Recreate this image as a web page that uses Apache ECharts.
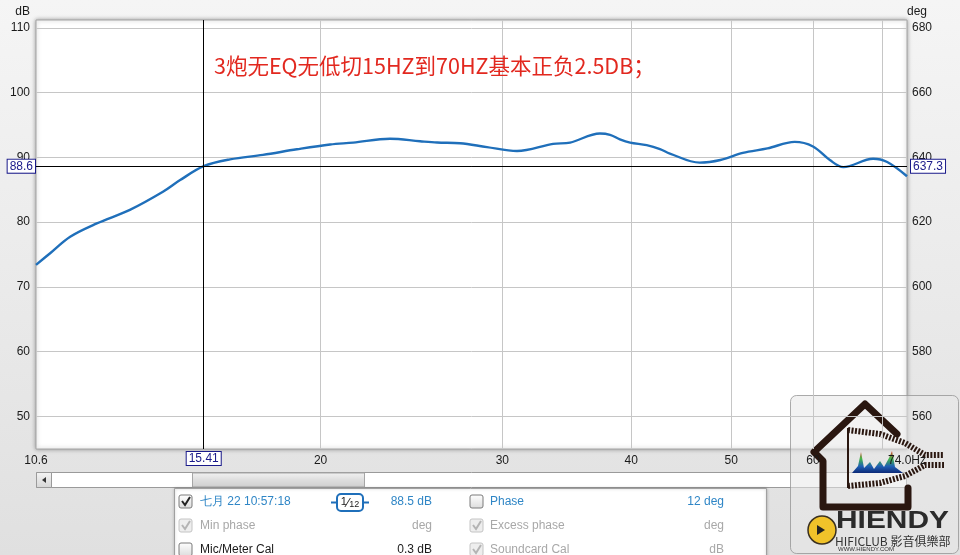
<!DOCTYPE html>
<html><head><meta charset="utf-8">
<script src="https://cdn.jsdelivr.net/npm/echarts@6.0.0/dist/echarts.min.js"></script>
<style>html,body{margin:0;padding:0;width:960px;height:555px;overflow:hidden;background:#ececec}#c{width:960px;height:555px;}</style>
</head><body><div id="c"></div>
<script>
// ---- data ----
const freqHz = [10.6, 10.94, 11.44, 12.14, 13.07, 14.07, 14.62, 15.41, 16.34, 17.59, 18.97, 20.43, 21.51, 23.35, 24.97, 25.94, 27.3, 28.99, 31.0, 33.6, 34.9, 37.3, 38.15, 39.0, 39.9, 41.4, 42.65, 43.6, 46.6, 48.8, 51.3, 54.2, 57.6, 60.0, 62.3, 64.2, 68.6, 70.8, 74.0];
const splDb  = [73.4, 75.2, 77.75, 79.8, 81.9, 84.7, 86.5, 88.65, 89.7, 90.4, 91.26, 92.0, 92.3, 92.9, 92.5, 92.3, 92.2, 91.6, 91.0, 92.1, 92.3, 93.7, 93.5, 92.8, 92.3, 91.9, 91.3, 90.6, 89.2, 89.6, 90.7, 91.4, 92.4, 91.7, 89.6, 88.5, 89.8, 89.3, 87.1];
const dbTicks = [50, 60, 70, 80, 90, 100, 110];
const degTicks = [560, 580, 600, 620, 640, 660, 680];
const freqGridTicks = [20, 30, 40, 50, 60, 70];
const freqLabelTicks = [10.6, 20, 30, 40, 50, 60, 74];
const freqMin = 10.6, freqMax = 74.0;
const dbMin = 44.95, dbMax = 111.24;
const degMin = 549.9, degMax = 682.48;
const cursorFreq = 15.41, cursorDb = 88.65;
const cursorFreqLabel = '15.41', cursorDbLabel = '88.6', cursorDegLabel = '637.3';
const titleText = '3炮无EQ无低切15HZ到70HZ基本正负2.5DB；';

const FONT = '"Liberation Sans", Arial, sans-serif';
const cursorLabel = (pos, txt, dist) => ({
  show: true, position: pos, distance: dist, formatter: txt,
  color: '#1a1a8a', fontSize: 12, fontFamily: FONT,
  backgroundColor: '#ffffff', borderColor: '#1a1a8a', borderWidth: 1, padding: [1, 2, 0, 2]
});

const chk = (x, y, checked, gray) => {
  const els = [{
    type: 'rect', shape: { x: x, y: y, width: 13, height: 13, r: 2 },
    style: { fill: gray ? '#eeeeee' : { type: 'linear', x: 0, y: 0, x2: 0, y2: 1, colorStops: [{ offset: 0, color: '#ffffff' }, { offset: 1, color: '#dcdcdc' }] },
             stroke: gray ? '#c4c4c4' : '#7a7a7a', lineWidth: 1 }
  }];
  if (checked) els.push({
    type: 'polyline', shape: { points: [[x + 3, y + 6], [x + 6, y + 10], [x + 11, y + 2]] },
    style: { stroke: gray ? '#b4b4b4' : '#222', lineWidth: 2, fill: null }
  });
  return els;
};
const txt = (x, y, s, color, align) => ({
  type: 'text', x: x, y: y,
  style: { text: s, fill: color, font: '12px ' + FONT, align: align || 'left', verticalAlign: 'middle' }
});

const blue = '#2f86c6', gray = '#a8a8a8';
const legendPanel = [
  { type: 'rect', shape: { x: 174.5, y: 488.5, width: 592, height: 80 },
    style: { fill: '#ffffff', stroke: '#a0a0a0', lineWidth: 1, shadowBlur: 3, shadowColor: 'rgba(0,0,0,0.25)' } },
  ...chk(179, 495, true, false),
  txt(200, 502, '七月 22 10:57:18', blue),
  { type: 'line', shape: { x1: 331, y1: 502.5, x2: 369, y2: 502.5 }, style: { stroke: '#1f6fba', lineWidth: 2 } },
  { type: 'rect', shape: { x: 337, y: 494, width: 26, height: 17, r: 4 }, style: { fill: '#fff', stroke: '#1f6fba', lineWidth: 2 } },
  { type: 'text', x: 350, y: 503, style: { text: '{a|1}{b|⁄}{c|12}', align: 'center', verticalAlign: 'middle',
      rich: { a: { fontSize: 11, fill: '#222', fontFamily: FONT, verticalAlign: 'top' }, b: { fontSize: 13, fill: '#222', fontFamily: FONT }, c: { fontSize: 9, fill: '#222', fontFamily: FONT, verticalAlign: 'bottom' } } } },
  txt(432, 502, '88.5 dB', blue, 'right'),
  ...chk(470, 495, false, false),
  txt(490, 502, 'Phase', blue),
  txt(724, 502, '12 deg', blue, 'right'),
  ...chk(179, 519, true, true),
  txt(200, 526, 'Min phase', gray),
  txt(432, 526, 'deg', gray, 'right'),
  ...chk(470, 519, true, true),
  txt(490, 526, 'Excess phase', gray),
  txt(724, 526, 'deg', gray, 'right'),
  ...chk(179, 543, false, false),
  txt(200, 550, 'Mic/Meter Cal', '#1a1a1a'),
  txt(432, 550, '0.3 dB', '#1a1a1a', 'right'),
  ...chk(470, 543, true, true),
  txt(490, 550, 'Soundcard Cal', gray),
  txt(724, 550, 'dB', gray, 'right')
];

const scrollbar = [
  { type: 'rect', shape: { x: 36.5, y: 472.5, width: 870, height: 15 }, style: { fill: '#ffffff', stroke: '#9a9a9a', lineWidth: 1 } },
  { type: 'rect', shape: { x: 36.5, y: 472.5, width: 15, height: 15 },
    style: { fill: { type: 'linear', x: 0, y: 0, x2: 0, y2: 1, colorStops: [{ offset: 0, color: '#f4f4f4' }, { offset: 1, color: '#d6d6d6' }] }, stroke: '#9a9a9a', lineWidth: 1 } },
  { type: 'polygon', shape: { points: [[42, 480], [46, 477], [46, 483]] }, style: { fill: '#333' } },
  { type: 'rect', shape: { x: 192.5, y: 473, width: 172, height: 14 },
    style: { fill: { type: 'linear', x: 0, y: 0, x2: 0, y2: 1, colorStops: [{ offset: 0, color: '#f2f2f2' }, { offset: 0.5, color: '#dedede' }, { offset: 1, color: '#cfcfcf' }] }, stroke: '#a6a6a6', lineWidth: 1 } }
];

const logo = [
  { type: 'rect', shape: { x: 790.5, y: 395.5, width: 168, height: 158, r: 6 },
    style: { fill: 'rgba(232,232,232,0.55)', stroke: 'rgba(150,150,150,0.8)', lineWidth: 1 } },
  { type: 'polyline', shape: { points: [[908, 488], [908, 507], [823, 507], [823, 461], [814, 452], [865, 404], [897, 434]] },
    style: { stroke: '#2a1710', lineWidth: 7, fill: null, lineJoin: 'round', lineCap: 'round' } },
  { type: 'polyline', shape: { points: [[848, 430], [880, 434], [905, 443], [925, 455], [944, 455]] },
    style: { stroke: '#2a1710', lineWidth: 6, fill: null, lineDash: [2, 1.5] } },
  { type: 'polyline', shape: { points: [[848, 486], [880, 483], [905, 476], [925, 465], [944, 465]] },
    style: { stroke: '#2a1710', lineWidth: 6, fill: null, lineDash: [2, 1.5] } },
  { type: 'line', shape: { x1: 848, y1: 428, x2: 848, y2: 488 }, style: { stroke: '#2a1710', lineWidth: 2 } },
  { type: 'polygon', shape: { points: [[852, 473], [858, 466], [861, 452], [864, 468], [870, 462], [874, 469], [880, 461], [884, 467], [889, 458], [892, 451], [895, 467], [903, 473]] },
    style: { fill: { type: 'linear', x: 0, y: 0, x2: 0, y2: 1, colorStops: [{ offset: 0, color: '#e23b2a' }, { offset: 0.35, color: '#41b84a' }, { offset: 0.7, color: '#1f5fb4' }, { offset: 1, color: '#0d2a78' }] } } },
  { type: 'circle', shape: { cx: 822, cy: 530, r: 14 }, style: { fill: '#f0c22a', stroke: '#3a3020', lineWidth: 1.5 } },
  { type: 'polygon', shape: { points: [[817, 525], [825, 530], [817, 535]] }, style: { fill: '#222' } },
  { type: 'text', x: 836, y: 522, scaleX: 1.3, style: { text: 'HIENDY', font: 'bold 23px ' + FONT, fill: '#2b2b2b', verticalAlign: 'middle' } },
  { type: 'text', x: 835, y: 541, style: { text: 'HIFICLUB 影音俱樂部', font: '12px "Noto Sans CJK TC", sans-serif', fill: '#333', verticalAlign: 'middle' } },
  { type: 'text', x: 838, y: 549, style: { text: 'WWW.HIENDY.COM', font: '6px ' + FONT, fill: '#333', verticalAlign: 'middle' } }
];

const chart = echarts.init(document.getElementById('c'), null, { renderer: 'canvas' });
chart.setOption({
  animation: false,
  backgroundColor: { type: 'linear', x: 0, y: 0, x2: 0, y2: 1, colorStops: [{ offset: 0, color: '#f5f5f5' }, { offset: 1, color: '#e0e0e0' }] },
  title: {
    text: titleText, left: 209, top: 50,
    textStyle: { color: '#e2281f', fontSize: 21.5, fontWeight: 'normal', fontFamily: '"Noto Sans CJK SC", sans-serif' }
  },
  grid: {
    left: 36, right: 53, top: 20, bottom: 106, show: true, outerBoundsMode: 'none',
    backgroundColor: '#ffffff', borderColor: '#a4a4a4', borderWidth: 1,
    shadowBlur: 4, shadowColor: 'rgba(0,0,0,0.35)'
  },
  xAxis: {
    type: 'log', logBase: 10, min: freqMin, max: freqMax,
    axisLine: { show: false },
    axisTick: { show: false, customValues: freqGridTicks },
    splitLine: { show: true, lineStyle: { color: '#c6c6c6', width: 1 } },
    minorSplitLine: { show: false },
    axisLabel: {
      customValues: freqLabelTicks, margin: 6, color: '#1a1a1a', fontSize: 12, fontFamily: FONT, hideOverlap: false,
      formatter: v => (v < 11 ? '10.6' : (v > 72 ? '74.0Hz' : String(Math.round(v))))
    }
  },
  yAxis: [{
    type: 'value', min: dbMin, max: dbMax, position: 'left',
    name: 'dB', nameLocation: 'end', nameGap: 8,
    nameTextStyle: { color: '#1a1a1a', fontSize: 12, fontFamily: FONT, align: 'right', verticalAlign: 'middle', padding: [0, 6, 0, 0] },
    axisLine: { show: false }, axisTick: { show: false, customValues: dbTicks },
    splitLine: { show: true, lineStyle: { color: '#c6c6c6', width: 1 } },
    axisLabel: { customValues: dbTicks, margin: 6, color: '#1a1a1a', fontSize: 12, fontFamily: FONT }
  }, {
    type: 'value', min: degMin, max: degMax, position: 'right',
    name: 'deg', nameLocation: 'end', nameGap: 8,
    nameTextStyle: { color: '#1a1a1a', fontSize: 12, fontFamily: FONT, align: 'left', verticalAlign: 'middle' },
    axisLine: { show: false }, axisTick: { show: false, customValues: degTicks },
    splitLine: { show: false },
    axisLabel: { customValues: degTicks, margin: 5, color: '#1a1a1a', fontSize: 12, fontFamily: FONT }
  }],
  series: [{
    type: 'line', xAxisIndex: 0, yAxisIndex: 0,
    data: freqHz.map((f, i) => [f, splDb[i]]),
    smooth: 0.35, showSymbol: false, symbol: 'none', clip: true,
    lineStyle: { color: '#1f6fba', width: 2.4 },
    markLine: {
      silent: true, symbol: ['none', 'none'], animation: false,
      lineStyle: { color: '#000000', width: 1, type: 'solid' },
      emphasis: { disabled: true },
      data: [
        { xAxis: cursorFreq, label: cursorLabel('start', cursorFreqLabel, 3) },
        { yAxis: cursorDb, label: cursorLabel('start', cursorDbLabel, 1) },
        { yAxis: cursorDb, label: cursorLabel('end', cursorDegLabel, 4) }
      ]
    }
  }],
  graphic: [...scrollbar, ...legendPanel, ...logo]
});
</script>
</body></html>
